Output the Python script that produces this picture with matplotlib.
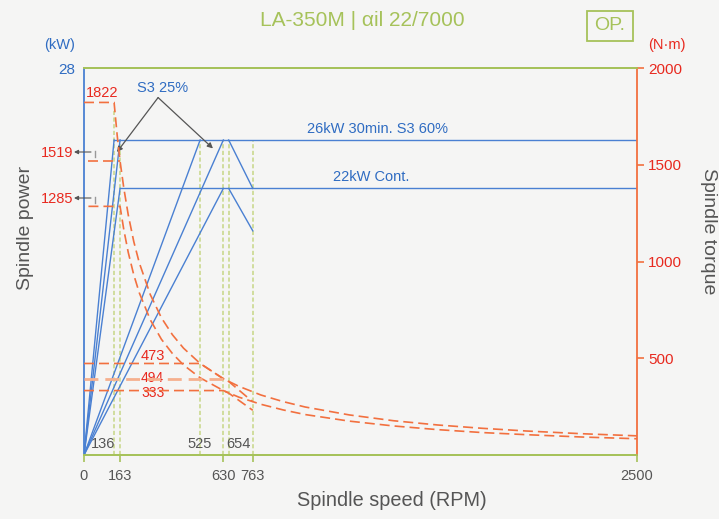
import matplotlib
matplotlib.use('Agg')
import matplotlib.pyplot as plt
from matplotlib.lines import Line2D
from matplotlib.patches import Rectangle

plt.rcParams['font.family'] = ['Liberation Sans', 'DejaVu Sans']

# ---- data ----
speed_ticks_below = [0, 163, 630, 763, 2500]
speed_ticks_above = [136, 525, 654]
marker_speeds = [136, 163, 525, 630, 654, 763]

# power ramps from 0 rpm to the base speed (kW)
ramp_speeds = [136, 163, 163, 525, 630, 630]
ramp_powers = [26, 26, 22, 26, 26, 22]
# rated power levels and where their flat line starts
power_levels = [26, 22]
power_start = [136, 163]
power_labels = ['26kW 30min. S3 60%', '22kW Cont.']
# low gear power fall-off after 654 rpm
drop_speeds = [654, 763]
drop_26 = [26, 22]
drop_22 = [22, 18.5]

# torque curves (N-m)
low_s3_speed = [0, 136, 150, 163, 180, 200, 225, 250, 300, 350, 400, 450, 525, 630, 654, 763]
low_s3_torque = [1822, 1822, 1652, 1519, 1379, 1241, 1103, 993, 828, 709, 621, 552, 473, 394, 380, 275]
low_s60_speed = [20, 163]
low_s60_torque = [1519, 1519]
low_cont_speed = [20, 163, 180, 200, 225, 250, 300, 350, 400, 450, 525, 630, 654, 763]
low_cont_torque = [1285, 1285, 1164, 1047, 931, 838, 698, 598, 524, 465, 399, 333, 320, 231]
high_s3_speed = [0, 525, 630, 700, 800, 900, 1000, 1200, 1400, 1600, 1800, 2000, 2250, 2500]
high_s3_torque = [473, 473, 394, 355, 310, 276, 248, 207, 177, 155, 138, 124, 110, 99]
high_s60_speed = [0, 630]
high_s60_torque = [394, 394]
high_cont_speed = [0, 630, 700, 800, 900, 1000, 1200, 1400, 1600, 1800, 2000, 2250, 2500]
high_cont_torque = [333, 333, 299, 262, 233, 209, 175, 150, 131, 116, 105, 93, 84]

torque_ticks = [500, 1000, 1500, 2000]
inner_torque_labels = ['473', '494', '333']
inner_torque_levels = [473, 394, 333]

BLUE = '#4a80d2'
BLUE_T = '#2f6cc2'
RED = '#e8291f'
ORANGE = '#f2703f'
GREEN = '#a6c25a'
GREEN_D = '#cad98f'
GRAY = '#555555'
BG = '#f5f5f4'

W, H = 719, 519
fig = plt.figure(figsize=(W / 100, H / 100), dpi=100, facecolor=BG)
ax = fig.add_axes([84 / W, 1 - 455 / H, 553 / W, 387 / H])
ax.set_facecolor(BG)
ax2 = ax.twinx()

P_TOP = 31.94
ax.set_xlim(0, 2500)
ax.set_ylim(0, P_TOP)
ax2.set_ylim(0, 2000)

for a in (ax, ax2):
    for s in a.spines.values():
        s.set_linewidth(1.3)
ax.spines['left'].set_color(BLUE)
ax.spines['top'].set_color(GREEN)
ax.spines['bottom'].set_color(GREEN)
ax.spines['right'].set_visible(False)
ax2.spines['left'].set_visible(False)
ax2.spines['top'].set_color(GREEN)
ax2.spines['bottom'].set_color(GREEN)
ax2.spines['right'].set_color(ORANGE)

# ---- ticks ----
ax.set_xticks(speed_ticks_below)
ax.set_xticklabels([str(v) for v in speed_ticks_below])
ax.tick_params(axis='x', colors=GREEN, labelcolor=GRAY, labelsize=10.5,
               length=5, width=1.2, pad=5)
ax.set_yticks([P_TOP])
ax.set_yticklabels(['28'])
ax.tick_params(axis='y', length=0, labelcolor=BLUE_T, labelsize=11, pad=6)
ax2.set_yticks(torque_ticks)
ax2.set_yticklabels([str(v) for v in torque_ticks])
ax2.tick_params(axis='y', colors=ORANGE, labelcolor=RED, labelsize=11,
                length=5, width=1.2, pad=3)

for v in speed_ticks_above:
    off = {136: -8, 525: 0, 654: 7}[v]
    ax.annotate(str(v), (v, 0), xycoords=ax.get_xaxis_transform(),
                xytext=(off, 3), textcoords='offset points',
                ha='center', va='bottom', color=GRAY, fontsize=10.5)

# ---- markers ----
for v in marker_speeds:
    top = 28.5 if v == 136 else 26
    ax.plot([v, v], [0, top], color=GREEN_D, lw=1.2, ls=(0, (2.5, 1.5)), zorder=1)

# ---- power ----
for s, p in zip(ramp_speeds, ramp_powers):
    ax.plot([0, s], [0, p], color=BLUE, lw=1.0, zorder=3)
for p, s0 in zip(power_levels, power_start):
    ax.plot([s0, 2500], [p, p], color=BLUE, lw=1.0, zorder=3)
ax.plot(drop_speeds, drop_26, color=BLUE, lw=1.0, zorder=3)
ax.plot(drop_speeds, drop_22, color=BLUE, lw=1.0, zorder=3)

ax.annotate(power_labels[0], (1325, 26), xytext=(0, 3), textcoords='offset points',
            ha='center', va='bottom', color=BLUE_T, fontsize=10.5)
ax.annotate(power_labels[1], (1297, 22), xytext=(0, 3), textcoords='offset points',
            ha='center', va='bottom', color=BLUE_T, fontsize=10.5)

ax.text(353, 30.3, 'S3 25%', ha='center', va='center', color=BLUE_T, fontsize=10.5)
for tip in [(149, 25.0), (583, 25.3)]:
    ax.annotate('', xy=tip, xytext=(335, 29.5),
                arrowprops=dict(arrowstyle='-|>', color=GRAY, lw=0.9,
                                mutation_scale=8, shrinkA=0, shrinkB=0))

# ---- torque ----
dash = dict(color=ORANGE, lw=1.2, dashes=(6, 3), zorder=4)
ax2.plot(low_s3_speed, low_s3_torque, **dash)
ax2.plot(low_s60_speed, low_s60_torque, **dash)
ax2.plot(low_cont_speed, low_cont_torque, **dash)
ax2.plot(high_s3_speed, high_s3_torque, **dash)
ax2.plot(high_s60_speed, high_s60_torque, color='#f6b08e', lw=2.0, dashes=(5, 2.5), zorder=4)
ax2.plot(high_cont_speed, high_cont_torque, **dash)

ax2.annotate('1822', (81, 1822), xytext=(0, 2), textcoords='offset points',
             ha='center', va='bottom', color=RED, fontsize=10.5)
ax2.annotate(inner_torque_labels[0], (310, inner_torque_levels[0]), xytext=(0, 0),
             textcoords='offset points', ha='center', va='bottom', color=RED,
             fontsize=10.5, zorder=5)
ax2.annotate(inner_torque_labels[1], (310, inner_torque_levels[1]), xytext=(0, 0.5),
             textcoords='offset points', ha='center', va='center', color=RED,
             fontsize=10, zorder=3)
ax2.annotate(inner_torque_labels[2], (310, inner_torque_levels[2]), xytext=(0, -1.5),
             textcoords='offset points', ha='center', va='center', color=RED,
             fontsize=10, zorder=3)

# ---- outside texts (figure pixels) ----
def fp(x, y):
    return x / W, 1 - y / H

for lab, y in [('1519', 153), ('1285', 199)]:
    fig.text(*fp(73, y), lab, ha='right', va='center', color=RED, fontsize=10.5)
    ax.annotate('', xy=fp(74, y - 1), xytext=fp(91, y - 1), xycoords='figure fraction',
                textcoords='figure fraction',
                arrowprops=dict(arrowstyle='-|>', color=GRAY, lw=0.8,
                                mutation_scale=6, shrinkA=0, shrinkB=0))
    fig.add_artist(Line2D([95 / W, 95 / W], [1 - (y - 2) / H, 1 - (y + 4) / H],
                          color='#999999', lw=1.0))

fig.text(*fp(60, 45), '(kW)', ha='center', va='center', color=BLUE_T, fontsize=10.5)
fig.text(*fp(667, 45), '(N·m)', ha='center', va='center', color=RED, fontsize=10.5)
fig.text(*fp(25, 228), 'Spindle power', rotation=90, ha='center', va='center',
         color=GRAY, fontsize=14)
fig.text(*fp(708, 231), 'Spindle torque', rotation=270, ha='center', va='center',
         color=GRAY, fontsize=14)
fig.text(*fp(392, 500), 'Spindle speed (RPM)', ha='center', va='center',
         color=GRAY, fontsize=14.3)
fig.text(*fp(362, 20), 'LA-350M | αil 22/7000', ha='center', va='center',
         color=GREEN, fontsize=15)
fig.text(*fp(610, 26), 'OP.', ha='center', va='center', color=GREEN, fontsize=14)
fig.add_artist(Rectangle(fp(587, 41), 46 / W, 30 / H, fill=False,
                         edgecolor=GREEN, lw=1.3, transform=fig.transFigure))

fig.savefig('out.png', dpi=100, facecolor=BG)
